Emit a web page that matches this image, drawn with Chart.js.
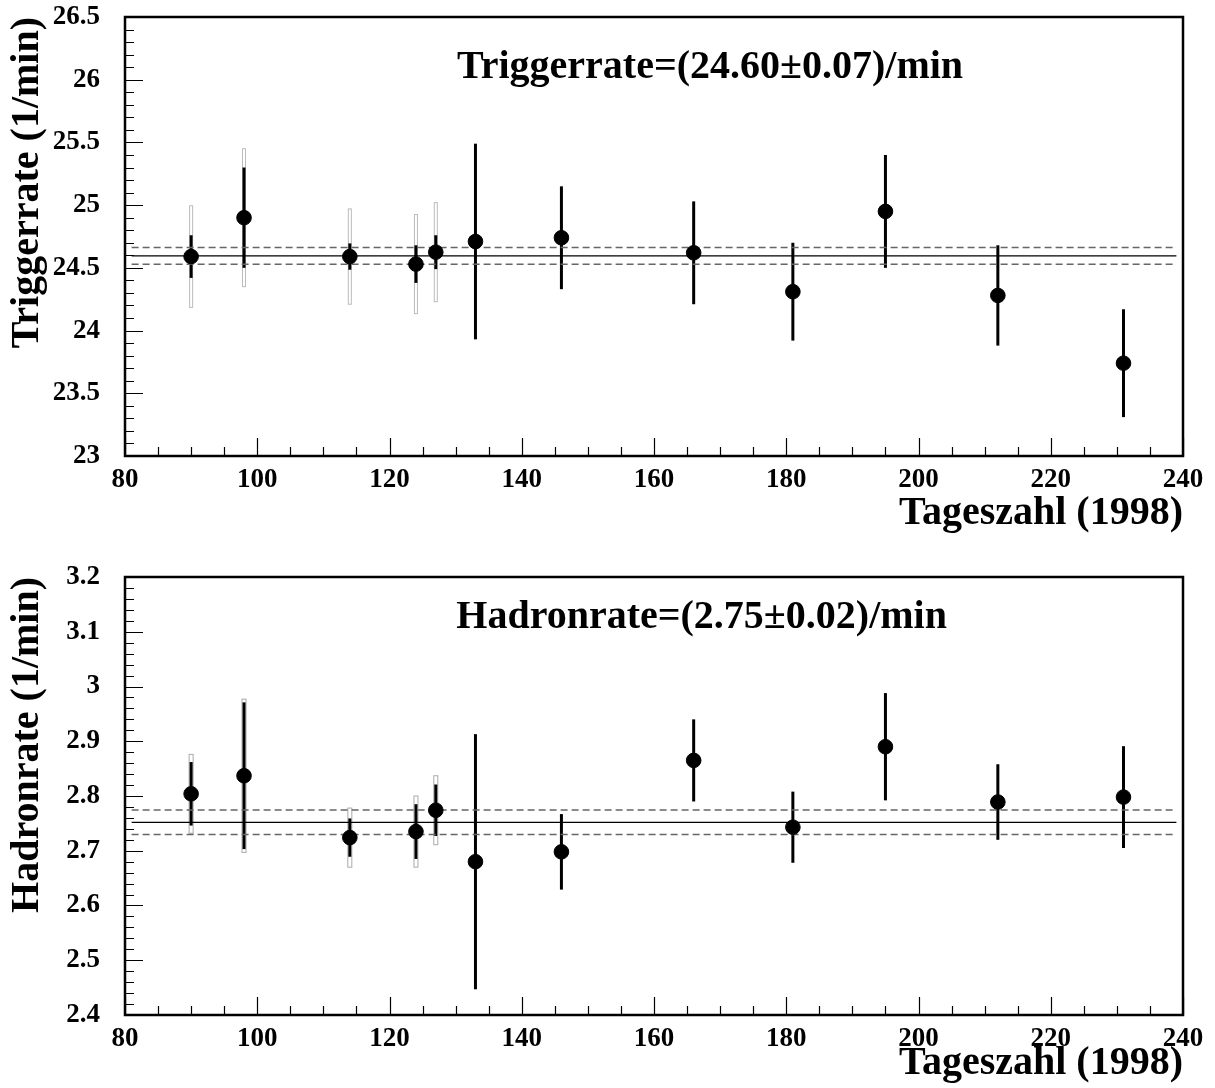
<!DOCTYPE html>
<html>
<head>
<meta charset="utf-8">
<script src="https://cdn.jsdelivr.net/npm/chart.js@4/dist/chart.umd.min.js"></script>
<style>
  html, body { margin: 0; padding: 0; background: #fff; }
  canvas { display: block; }
</style>
</head>
<body>
<canvas id="trigChart" width="1215" height="544"></canvas>
<canvas id="hadChart" width="1215" height="544"></canvas>
<script>
// Tageszahl (day of year 1998)
const days = [90, 98, 114, 124, 127, 133, 146, 166, 181, 195, 212, 231];

// Triggerrate (1/min)
const trigRate = [24.59, 24.90, 24.59, 24.53, 24.625, 24.71, 24.74, 24.62, 24.31, 24.95, 24.28, 23.74];
const trigErr  = [0.17, 0.40, 0.105, 0.15, 0.135, 0.78, 0.41, 0.41, 0.39, 0.45, 0.40, 0.43];
const trigSys  = [0.405, 0.55, 0.38, 0.395, 0.395, null, null, null, null, null, null, null];
const trigFit  = [24.595, 0.067];

// Hadronrate (1/min)
const hadRate = [2.804, 2.837, 2.724, 2.735, 2.774, 2.680, 2.698, 2.865, 2.743, 2.890, 2.789, 2.798];
const hadErr  = [0.058, 0.134, 0.035, 0.050, 0.047, 0.233, 0.069, 0.075, 0.065, 0.098, 0.069, 0.093];
const hadSys  = [0.072, 0.14, 0.054, 0.065, 0.063, null, null, null, null, null, null, null];
const hadFit  = [2.752, 0.0225];

const xTicks = [80, 100, 120, 140, 160, 180, 200, 220, 240];

const FONT = '"Liberation Serif", "Times New Roman", Times, serif';

function fmt(v) {
  return String(+v.toFixed(2));
}

function makePanel(id, cfg) {
  const framePlugin = {
    id: 'frame',
    beforeDatasetsDraw(chart) {
      const ctx = chart.ctx, xs = chart.scales.x, ys = chart.scales.y;
      ctx.save();
      days.forEach((d, i) => {
        const px = xs.getPixelForValue(d);
        const s = cfg.sys[i];
        if (s != null) {
          const t = ys.getPixelForValue(cfg.vals[i] + s);
          const b = ys.getPixelForValue(cfg.vals[i] - s);
          const w = cfg.sysW;
          ctx.fillStyle = '#fff';
          ctx.fillRect(px - w / 2, t, w, b - t);
          ctx.strokeStyle = cfg.sysColor;
          ctx.lineWidth = 1;
          ctx.strokeRect(px - w / 2, t, w, b - t);
        }
        const t2 = ys.getPixelForValue(cfg.vals[i] + cfg.err[i]);
        const b2 = ys.getPixelForValue(cfg.vals[i] - cfg.err[i]);
        ctx.strokeStyle = '#000';
        ctx.lineWidth = 3;
        ctx.beginPath();
        ctx.moveTo(px, t2);
        ctx.lineTo(px, b2);
        ctx.stroke();
      });
      ctx.restore();
    },
    afterDraw(chart) {
      const ctx = chart.ctx, a = chart.chartArea, xs = chart.scales.x, ys = chart.scales.y;
      ctx.save();
      ctx.strokeStyle = '#000';
      ctx.lineWidth = 1.2;
      // inward ticks on x axis
      ctx.beginPath();
      for (let v = 80; v <= 240; v += 5) {
        const px = Math.round(xs.getPixelForValue(v)) + 0.5;
        const len = v % 20 === 0 ? 18 : 9;
        ctx.moveTo(px, a.bottom);
        ctx.lineTo(px, a.bottom - len);
      }
      // inward ticks on y axis
      const n = Math.round((cfg.max - cfg.min) / cfg.minor);
      for (let k = 0; k <= n; k++) {
        const v = cfg.min + k * cfg.minor;
        const py = Math.round(ys.getPixelForValue(v)) + 0.5;
        const len = k % cfg.per === 0 ? 18 : 9;
        ctx.moveTo(a.left, py);
        ctx.lineTo(a.left + len, py);
      }
      ctx.stroke();
      // frame
      ctx.lineWidth = 2.5;
      ctx.strokeRect(a.left, a.top, a.right - a.left, a.bottom - a.top);
      // fit result text
      ctx.fillStyle = '#000';
      ctx.font = 'bold 40px ' + FONT;
      ctx.textAlign = 'center';
      ctx.textBaseline = 'middle';
      ctx.fillText(cfg.label, a.left + (a.right - a.left) * cfg.labelX, a.top + cfg.labelY);
      ctx.restore();
    }
  };

  const fitLine = (v, dashed) => ({
    type: 'line',
    data: [{ x: 81, y: v }, { x: 239, y: v }],
    borderColor: dashed ? '#666' : '#000',
    borderWidth: dashed ? 1.5 : 1.3,
    borderDash: dashed ? [7, 4] : [],
    pointRadius: 0,
    order: 2
  });

  return new Chart(document.getElementById(id), {
    type: 'scatter',
    data: {
      datasets: [
        {
          data: days.map((d, i) => ({ x: d, y: cfg.vals[i] })),
          backgroundColor: '#000',
          borderColor: '#000',
          pointRadius: 7.3,
          pointHoverRadius: 7.3,
          order: 0
        },
        fitLine(cfg.fit[0], false),
        fitLine(cfg.fit[0] + cfg.fit[1], true),
        fitLine(cfg.fit[0] - cfg.fit[1], true)
      ]
    },
    options: {
      responsive: false,
      animation: false,
      layout: { padding: { left: 0, right: 32, top: cfg.top, bottom: 0 } },
      plugins: { legend: { display: false }, tooltip: { enabled: false } },
      scales: {
        x: {
          type: 'linear',
          min: 80, max: 240,
          afterBuildTicks: s => { s.ticks = xTicks.map(v => ({ value: v })); },
          afterFit: s => { s.height = cfg.xHeight; s.paddingLeft = 0; s.paddingRight = 0; },
          grid: { display: false, drawTicks: false },
          border: { display: false },
          ticks: { color: '#000', padding: 8, font: { family: FONT, size: 27, weight: 'bold' }, callback: fmt },
          title: {
            display: true, text: 'Tageszahl (1998)', align: 'end', color: '#000',
            padding: { top: 0, bottom: cfg.xTitlePad },
            font: { family: FONT, size: 40, weight: 'bold' }
          }
        },
        y: {
          min: cfg.min, max: cfg.max,
          afterBuildTicks: s => { s.ticks = cfg.yTicks.map(v => ({ value: v })); },
          afterFit: s => { s.width = 125; s.paddingTop = 0; s.paddingBottom = 0; },
          grid: { display: false, drawTicks: false },
          border: { display: false },
          ticks: { color: '#000', padding: 25, font: { family: FONT, size: 27, weight: 'bold' }, callback: fmt },
          title: {
            display: true, text: cfg.yTitle, align: 'end', color: '#000',
            padding: { top: 4, bottom: 0 },
            font: { family: FONT, size: 40, weight: 'bold' }
          }
        }
      }
    },
    plugins: [framePlugin]
  });
}

makePanel('trigChart', {
  vals: trigRate, err: trigErr, sys: trigSys, fit: trigFit,
  min: 23, max: 26.5, minor: 0.1, per: 5,
  yTicks: [23, 23.5, 24, 24.5, 25, 25.5, 26, 26.5],
  yTitle: 'Triggerrate (1/min)',
  label: 'Triggerrate=(24.60\u00b10.07)/min', labelX: 0.553, labelY: 51,
  top: 17, xHeight: 88, xTitlePad: 6, sysW: 3, sysColor: '#bbb'
});

makePanel('hadChart', {
  vals: hadRate, err: hadErr, sys: hadSys, fit: hadFit,
  min: 2.4, max: 3.2, minor: 0.02, per: 5,
  yTicks: [2.4, 2.5, 2.6, 2.7, 2.8, 2.9, 3.0, 3.1, 3.2],
  yTitle: 'Hadronrate (1/min)',
  label: 'Hadronrate=(2.75\u00b10.02)/min', labelX: 0.545, labelY: 41,
  top: 33, xHeight: 73, xTitlePad: 0, sysW: 4, sysColor: '#aaa'
});
</script>
</body>
</html>
